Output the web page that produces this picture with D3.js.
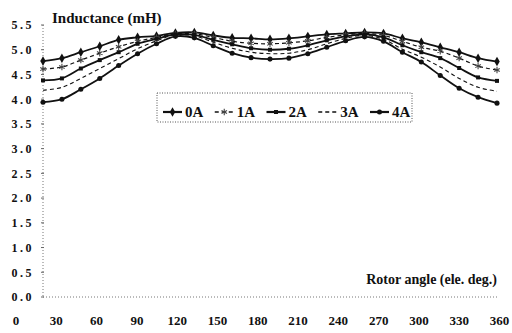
<!DOCTYPE html>
<html>
<head>
<meta charset="utf-8">
<script src="https://cdn.jsdelivr.net/npm/d3@7/dist/d3.min.js"></script>
<style>
  html, body { margin: 0; padding: 0; background: #fff; }
  svg { display: block; }
  svg text { font-family: "Liberation Serif", "Times New Roman", Times, Tinos, "DejaVu Serif", "Noto Serif", serif !important; font-weight: bold; fill: #111; }
</style>
</head>
<body>
<svg id="chart" width="512" height="333"></svg>
<script>
// ---- data ----
const angles = [0,15,30,45,60,75,90,105,120,135,150,165,180,195,210,225,240,255,270,285,300,315,330,345,360];
const seriesNames = ["0A", "1A", "2A", "3A", "4A"];
const L0A = [4.77,4.83,4.95,5.07,5.20,5.25,5.28,5.34,5.35,5.29,5.24,5.23,5.21,5.23,5.27,5.31,5.33,5.35,5.33,5.23,5.15,5.05,4.95,4.83,4.76];
const L1A = [4.61,4.65,4.79,4.93,5.06,5.17,5.25,5.32,5.32,5.25,5.17,5.13,5.12,5.14,5.18,5.25,5.30,5.33,5.29,5.17,5.05,4.97,4.83,4.67,4.59];
const L2A = [4.38,4.42,4.62,4.79,4.95,5.12,5.22,5.31,5.30,5.20,5.11,5.03,5.00,5.02,5.09,5.19,5.27,5.31,5.25,5.09,4.95,4.83,4.63,4.44,4.37];
const L3A = [4.18,4.24,4.42,4.62,4.82,5.02,5.18,5.30,5.28,5.15,5.03,4.95,4.92,4.93,5.00,5.12,5.23,5.29,5.21,5.01,4.85,4.65,4.42,4.24,4.16];
const L4A = [3.94,4.00,4.20,4.42,4.68,4.92,5.12,5.27,5.24,5.08,4.93,4.84,4.81,4.83,4.92,5.05,5.18,5.26,5.17,4.95,4.75,4.48,4.22,4.04,3.92];
const yTicks = [0.0,0.5,1.0,1.5,2.0,2.5,3.0,3.5,4.0,4.5,5.0,5.5];
const xTickLabels = ["0","30","60","90","120","150","180","210","240","270","300","330","360"];
const yTitle = "Inductance (mH)";
const xTitle = "Rotor angle (ele. deg.)";

const seriesValues = [L0A, L1A, L2A, L3A, L4A];
const styles = [
  { dash: null,  width: 1.8, marker: "diamond" },
  { dash: "4,3", width: 1.2, marker: "star" },
  { dash: null,  width: 1.8, marker: "square" },
  { dash: "4,3", width: 1.1, marker: "none" },
  { dash: null,  width: 1.8, marker: "circle" }
];
const FONT = '"Liberation Serif", "Times New Roman", Times, Tinos, "DejaVu Serif", serif';

const svg = d3.select("#chart");
const x = d3.scaleLinear().domain([0, 360]).range([43, 497]);
const y = d3.scaleLinear().domain([0, 5.5]).range([297, 25]);
const xLab = d3.scalePoint().domain(xTickLabels).range([15.5, 499]);

// axes lines (dotted)
svg.append("line").attr("x1", x(0)).attr("x2", x(0)).attr("y1", y(5.5)).attr("y2", y(0))
  .attr("stroke", "#777").attr("stroke-width", 1).attr("stroke-dasharray", "1,2");
svg.append("line").attr("x1", x(0)).attr("x2", x(360)).attr("y1", y(0)).attr("y2", y(0))
  .attr("stroke", "#777").attr("stroke-width", 1).attr("stroke-dasharray", "1,2");
svg.selectAll(".ytm").data(yTicks).enter().append("line")
  .attr("x1", x(0) - 2).attr("x2", x(0) + 1)
  .attr("y1", d => y(d)).attr("y2", d => y(d))
  .attr("stroke", "#666").attr("stroke-width", 1);

// y axis labels
const yAxis = d3.axisLeft(y).tickValues(yTicks).tickSize(0).tickPadding(0).tickFormat(d3.format(".1f"));
const gy = svg.append("g").attr("transform", "translate(34,0)").call(yAxis);
gy.attr("font-family", FONT);
gy.select(".domain").remove();
gy.selectAll("text").attr("font-size", 12).attr("letter-spacing", "2.5px")
  .attr("font-family", FONT).attr("font-weight", "bold").attr("fill", "#111");

// x axis labels
const xAxis = d3.axisBottom(xLab).tickSize(0).tickPadding(0);
const gx = svg.append("g").attr("transform", "translate(0,316)").call(xAxis);
gx.attr("font-family", FONT);
gx.select(".domain").remove();
gx.selectAll("text").attr("font-size", 13)
  .attr("font-family", FONT).attr("font-weight", "bold").attr("fill", "#111");

// titles
svg.append("text").attr("x", 52).attr("y", 23).attr("font-size", 15).attr("font-family", FONT).attr("font-weight", "bold").text(yTitle);
svg.append("text").attr("x", 497).attr("y", 284).attr("text-anchor", "end").attr("font-size", 14)
  .attr("font-family", FONT).attr("font-weight", "bold").text(xTitle);

// lines
const line = d3.line().x((d, i) => x(angles[i])).y(d => y(d)).curve(d3.curveCatmullRom.alpha(0.5));

function drawMarker(g, type, cx, cy) {
  if (type === "diamond") {
    g.append("path").attr("d", d3.symbol(d3.symbolDiamond, 26)()).attr("transform", `translate(${cx},${cy})`).attr("fill", "#111");
  } else if (type === "square") {
    g.append("path").attr("d", d3.symbol(d3.symbolSquare, 16)()).attr("transform", `translate(${cx},${cy})`).attr("fill", "#111");
  } else if (type === "circle") {
    g.append("path").attr("d", d3.symbol(d3.symbolCircle, 20)()).attr("transform", `translate(${cx},${cy})`).attr("fill", "#111");
  } else if (type === "star") {
    g.append("path").attr("d", d3.symbol(d3.symbolAsterisk, 28)()).attr("transform", `translate(${cx},${cy})`)
      .attr("fill", "none").attr("stroke", "#444").attr("stroke-width", 1.1);
  }
}

seriesValues.forEach((vals, si) => {
  const st = styles[si];
  const g = svg.append("g");
  g.append("path").datum(vals).attr("d", line)
    .attr("fill", "none").attr("stroke", "#111").attr("stroke-width", st.width)
    .attr("stroke-dasharray", st.dash);
  vals.forEach((v, i) => drawMarker(g, st.marker, x(angles[i]), y(v)));
});

// legend
const legX = 157, legY = 93, legW = 255, legH = 29;
svg.append("rect").attr("x", legX).attr("y", legY).attr("width", legW).attr("height", legH)
  .attr("fill", "#fff").attr("stroke", "#555").attr("stroke-width", 1).attr("stroke-dasharray", "1,1.5");
const legScale = d3.scalePoint().domain(seriesNames).range([163, 370]);
seriesNames.forEach((name, si) => {
  const st = styles[si];
  const sx = legScale(name);
  const g = svg.append("g");
  g.append("line").attr("x1", sx).attr("x2", sx + 19).attr("y1", 112).attr("y2", 112)
    .attr("stroke", "#111").attr("stroke-width", st.width + 0.4).attr("stroke-dasharray", st.dash);
  drawMarker(g, st.marker, sx + 9.5, 112);
  g.append("text").attr("x", sx + 22).attr("y", 117).attr("font-size", 15)
    .attr("font-family", FONT).attr("font-weight", "bold").text(name);
});
</script>
</body>
</html>
